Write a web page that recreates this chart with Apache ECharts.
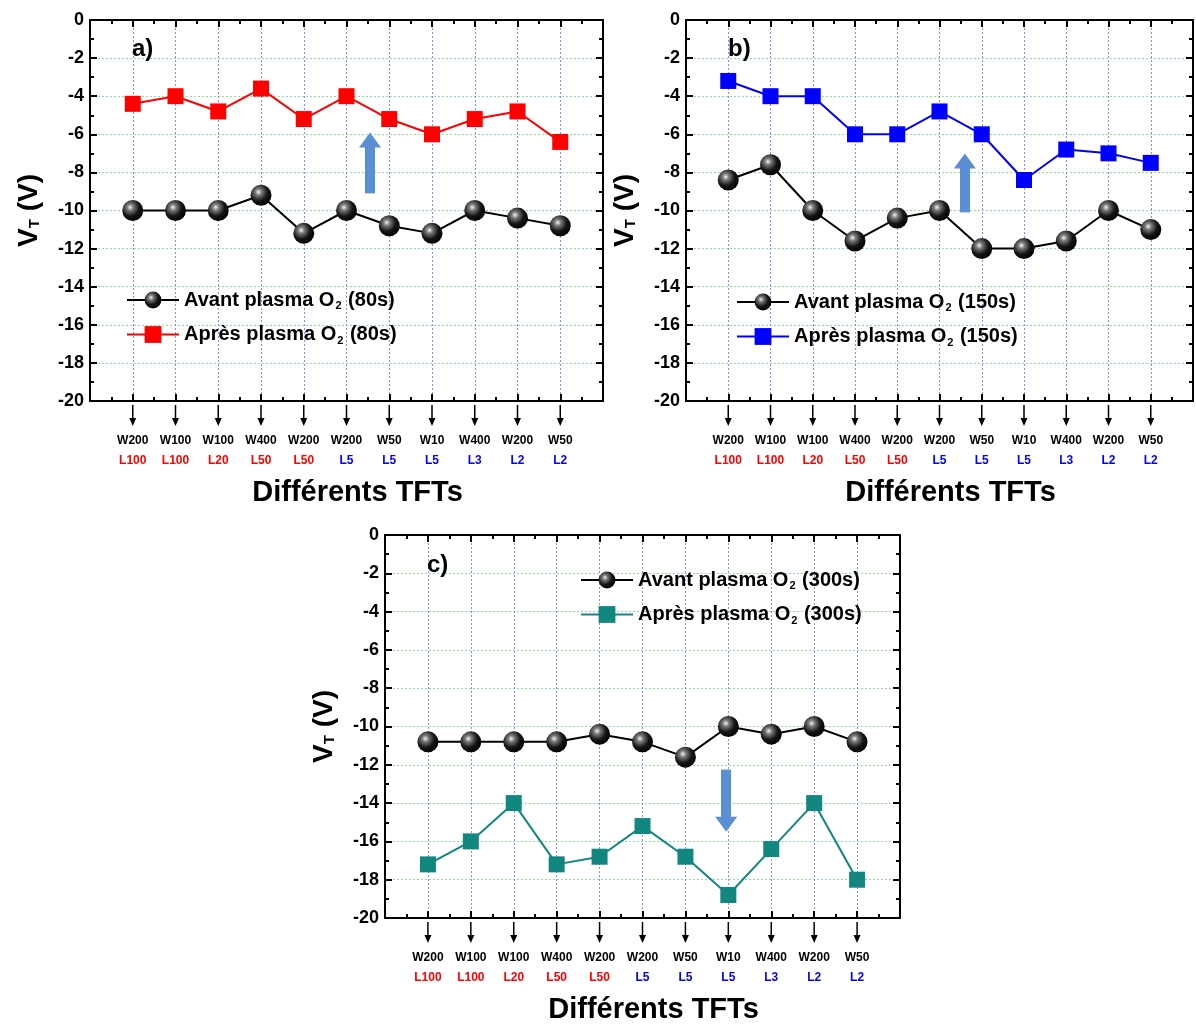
<!DOCTYPE html>
<html>
<head>
<meta charset="utf-8">
<script src="https://cdn.jsdelivr.net/npm/echarts@6/dist/echarts.min.js"></script>
<style>html,body{margin:0;padding:0;background:#fff}#c{width:1196px;height:1026px}</style>
</head>
<body>
<div id="c"></div>
<script>
// ---- data ----
const widths = ['W200','W100','W100','W400','W200','W200','W50','W10','W400','W200','W50'];
const lengths = ['L100','L100','L20','L50','L50','L5','L5','L5','L3','L2','L2'];
const avant80  = [-10, -10, -10, -9.2, -11.2, -10, -10.8, -11.2, -10, -10.4, -10.8];
const apres80  = [-4.4, -4, -4.8, -3.6, -5.2, -4, -5.2, -6, -5.2, -4.8, -6.4];
const avant150 = [-8.4, -7.6, -10, -11.6, -10.4, -10, -12, -12, -11.6, -10, -11];
const apres150 = [-3.2, -4, -4, -6, -6, -4.8, -6, -8.4, -6.8, -7, -7.5];
const avant300 = [-10.8, -10.8, -10.8, -10.8, -10.4, -10.8, -11.6, -10, -10.4, -10, -10.8];
const apres300 = [-17.2, -16, -14, -17.2, -16.8, -15.2, -16.8, -18.8, -16.4, -14, -18];
const yMin = -20, yMax = 0, yStep = 2;
const xMin = 0, xMax = 12;
const seriesNames = [
  ['Avant plasma O2 (80s)', 'Après plasma O2 (80s)'],
  ['Avant plasma O2 (150s)', 'Après plasma O2 (150s)'],
  ['Avant plasma O2 (300s)', 'Après plasma O2 (300s)']
];

const FONT = '"Liberation Sans", Arial, sans-serif';
const pts = arr => arr.map((v, i) => [i + 1, v]);
const lColor = l => (parseInt(l.slice(1), 10) >= 20 ? '#ff0000' : '#0000ff');

const grids = [
  {left: 90, top: 20, width: 513, height: 381},
  {left: 686, top: 20, width: 509, height: 381},
  {left: 385, top: 535, width: 515, height: 383}
];

const ball = {
  type: 'radial', x: 0.38, y: 0.35, r: 0.7,
  colorStops: [
    {offset: 0, color: '#f4f4f4'},
    {offset: 0.22, color: '#7a7a7a'},
    {offset: 0.6, color: '#151515'},
    {offset: 1, color: '#000000'}
  ]
};
const apresColors = ['#ff0000', '#0000ff', '#11877f'];
const apresData = [apres80, apres150, apres300];
const avantData = [avant80, avant150, avant300];
const arrows = [
  {x: 6.55, from: -9.1, to: -6.3},
  {x: 6.6, from: -10.1, to: -7.4},
  {x: 7.95, from: -12.25, to: -15.1}
];
const letters = ['a)', 'b)', 'c)'];
const letterPos = [[132, 37], [728, 37], [427, 553]];
const legendPos = [[126, 290], [736, 292], [580, 570]];

const xAxes = [], yAxes = [], series = [], legends = [], titles = [];
grids.forEach((g, k) => {
  const baseX = {
    gridIndex: k, type: 'value', min: xMin, max: xMax, interval: 1,
    axisLine: {show: true, onZero: false, lineStyle: {color: '#000', width: 2}},
    axisTick: {show: true, inside: true, length: 7, lineStyle: {width: 2, color: '#000'}},
    minorTick: {show: true, splitNumber: 2, length: 4, lineStyle: {width: 2, color: '#000'}}
  };
  xAxes.push(Object.assign({}, baseX, {
    position: 'bottom',
    splitLine: {show: true, lineStyle: {color: '#8a8aff', type: [2, 2], width: 1}},
    name: 'Différents TFTs', nameLocation: 'middle', nameGap: 77,
    nameTextStyle: {fontSize: 29, fontWeight: 'bold', color: '#000', fontFamily: FONT, padding: [0, 0, 0, 22]},
    axisLabel: {
      margin: 30, interval: 0,
      formatter: v => {
        const i = v - 1;
        if (i < 0 || i >= widths.length) return '';
        const c = lColor(lengths[i]) === '#ff0000' ? 'lr' : 'lb';
        return '{w|' + widths[i] + '}\n{' + c + '|' + lengths[i] + '}';
      },
      rich: {
        w: {fontSize: 12, fontWeight: 'bold', color: '#000', fontFamily: FONT, lineHeight: 20},
        lr: {fontSize: 12, fontWeight: 'bold', color: '#ff0000', fontFamily: FONT, lineHeight: 20},
        lb: {fontSize: 12, fontWeight: 'bold', color: '#0000ff', fontFamily: FONT, lineHeight: 20}
      }
    }
  }));
  xAxes.push(Object.assign({}, baseX, {
    position: 'top', axisLabel: {show: false}, splitLine: {show: false}
  }));
  const baseY = {
    gridIndex: k, type: 'value', min: yMin, max: yMax, interval: yStep,
    axisLine: {show: true, onZero: false, lineStyle: {color: '#000', width: 2}},
    axisTick: {show: true, inside: true, length: 7, lineStyle: {width: 2, color: '#000'}},
    minorTick: {show: true, splitNumber: 2, length: 4, lineStyle: {width: 2, color: '#000'}}
  };
  yAxes.push(Object.assign({}, baseY, {
    position: 'left',
    splitLine: {show: true, lineStyle: {color: '#8fe08f', type: [2, 2], width: 1}},
    axisLabel: {fontSize: 18, fontWeight: 'bold', color: '#000', fontFamily: FONT, margin: 6},
    name: 'V{sub|T} (V)', nameLocation: 'middle', nameRotate: 90, nameGap: 47,
    nameTextStyle: {
      fontSize: 28, fontWeight: 'bold', color: '#000', fontFamily: FONT,
      rich: {sub: {fontSize: 15, fontWeight: 'bold', color: '#000', fontFamily: FONT, padding: [12, 0, 0, 0]}}
    }
  }));
  yAxes.push(Object.assign({}, baseY, {
    position: 'right', axisLabel: {show: false}, splitLine: {show: false}
  }));
  const xi = 2 * k, yi = 2 * k;
  const a = arrows[k];
  series.push({
    name: seriesNames[k][0], type: 'line', xAxisIndex: xi, yAxisIndex: yi,
    data: pts(avantData[k]), symbol: 'circle', symbolSize: 21,
    lineStyle: {color: '#000', width: 2}, itemStyle: {color: ball, borderWidth: 0}, z: 3
  });
  series.push({
    name: seriesNames[k][1], type: 'line', xAxisIndex: xi, yAxisIndex: yi,
    data: pts(apresData[k]), symbol: 'rect', symbolSize: 16,
    lineStyle: {color: apresColors[k], width: 2}, itemStyle: {color: apresColors[k]}, z: 3,
    markLine: {
      silent: true, symbol: ['none', 'triangle'], symbolSize: [22, 15],
      lineStyle: {color: '#5a8fd6', width: 10, type: 'solid', cap: 'butt'},
      itemStyle: {color: '#5a8fd6'},
      label: {show: false}, emphasis: {disabled: true},
      data: [[{coord: [a.x, a.from]}, {coord: [a.x, a.to]}]]
    }
  });
  series.push({
    type: 'custom', xAxisIndex: xi, yAxisIndex: yi, clip: false, silent: true, z: 2,
    data: widths.map((w, i) => [i + 1, yMin]),
    renderItem: (params, api) => {
      const p = api.coord([api.value(0), api.value(1)]);
      const y0 = p[1] + 4, y1 = p[1] + 25;
      return {
        type: 'group',
        children: [
          {type: 'line', shape: {x1: p[0], y1: y0, x2: p[0], y2: y1 - 6}, style: {stroke: '#000', lineWidth: 1.5}},
          {type: 'polygon', shape: {points: [[p[0] - 3.5, y1 - 8], [p[0] + 3.5, y1 - 8], [p[0], y1]]}, style: {fill: '#000'}}
        ]
      };
    }
  });
  legends.push({
    left: legendPos[k][0], top: legendPos[k][1], orient: 'vertical',
    itemWidth: 52, itemHeight: 21, itemGap: 13, padding: 0,
    data: seriesNames[k],
    formatter: n => n.replace('O2', 'O{sub|2}'),
    textStyle: {
      fontSize: 20, fontWeight: 'bold', color: '#000', fontFamily: FONT,
      rich: {sub: {fontSize: 11, fontWeight: 'bold', color: '#000', fontFamily: FONT, padding: [12, 1, 0, 1]}}
    }
  });
  titles.push({
    text: letters[k], left: letterPos[k][0], top: letterPos[k][1], padding: 0,
    textStyle: {fontSize: 24, fontWeight: 'bold', color: '#000', fontFamily: FONT}
  });
});

const chart = echarts.init(document.getElementById('c'), null, {renderer: 'canvas'});
chart.setOption({
  animation: false,
  backgroundColor: '#fff',
  title: titles,
  legend: legends,
  grid: grids,
  xAxis: xAxes,
  yAxis: yAxes,
  series: series
});
</script>
</body>
</html>
